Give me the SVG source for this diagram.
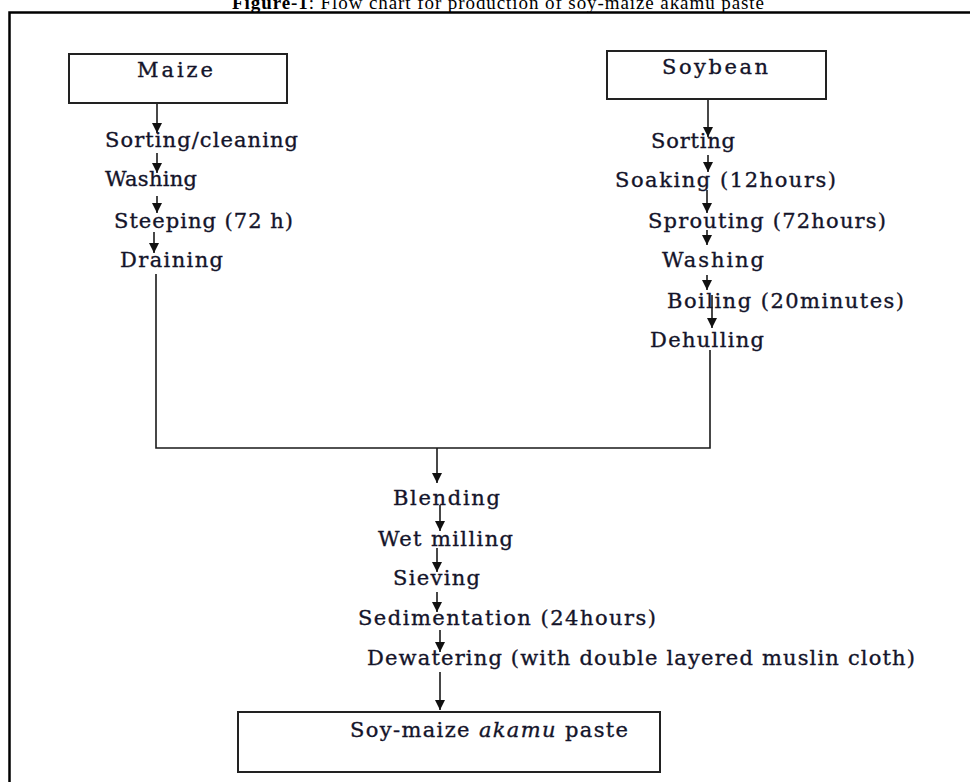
<svg xmlns="http://www.w3.org/2000/svg" width="970" height="782" viewBox="0 0 970 782">
<style>
.lbl{font-family:"DejaVu Serif","Liberation Serif",serif;font-size:21px;fill:#14142a;stroke:#14142a;stroke-width:0.35}
.ttl{font-family:"Liberation Serif","Times New Roman",serif;font-size:19px;fill:#000}
.box{fill:#fff;stroke:#222;stroke-width:2}
.con{fill:none;stroke:#1a1a1a;stroke-width:1.6}
.frame{fill:none;stroke:#000;stroke-width:2.5}
</style>
<defs>
<marker id="ah" viewBox="0 0 10 10" refX="10" refY="5" markerWidth="10" markerHeight="10" markerUnits="userSpaceOnUse" orient="auto">
<path d="M0,0 L10,5 L0,10 z" fill="#111"/>
</marker>
</defs>
<rect width="970" height="782" fill="#fff"/>
<g id="title">
<text class="ttl" x="232" y="9" textLength="532" lengthAdjust="spacing"><tspan font-weight="bold">Figure-1</tspan>: Flow chart for production of soy-maize akamu paste</text>
</g>
<g id="frame">
<path class="frame" d="M9.5,782 V12.5 H970"/>
</g>
<g id="connectors">
<path class="con" marker-end="url(#ah)" d="M157,103 V133"/>
<path class="con" marker-end="url(#ah)" d="M157,153 V173"/>
<path class="con" marker-end="url(#ah)" d="M157,196 V213"/>
<path class="con" marker-end="url(#ah)" d="M154,232 V253"/>
<path class="con" d="M156,274 V448 H710 V350"/>
<path class="con" marker-end="url(#ah)" d="M437,448 V483"/>
<path class="con" marker-end="url(#ah)" d="M708,99 V137"/>
<path class="con" marker-end="url(#ah)" d="M708,155 V172"/>
<path class="con" marker-end="url(#ah)" d="M707,190 V213"/>
<path class="con" marker-end="url(#ah)" d="M707,230 V245"/>
<path class="con" marker-end="url(#ah)" d="M707,275 V290"/>
<path class="con" marker-end="url(#ah)" d="M712,295 V328"/>
<path class="con" marker-end="url(#ah)" d="M440,505 V531"/>
<path class="con" marker-end="url(#ah)" d="M437,548 V572"/>
<path class="con" marker-end="url(#ah)" d="M437,592 V612"/>
<path class="con" marker-end="url(#ah)" d="M440,630 V652"/>
<path class="con" marker-end="url(#ah)" d="M440,672 V710"/>
</g>
<g id="maize">
<rect class="box" x="69" y="54" width="218" height="49"/>
<text class="lbl" x="137" y="77" textLength="76" lengthAdjust="spacing">Maize</text>
</g>
<g id="soybean">
<rect class="box" x="607" y="51" width="219" height="48"/>
<text class="lbl" x="662" y="74" textLength="106" lengthAdjust="spacing">Soybean</text>
</g>
<g id="sorting-cleaning"><text class="lbl" x="105" y="147" textLength="193" lengthAdjust="spacing">Sorting/cleaning</text></g>
<g id="washing-maize"><text class="lbl" x="105" y="186" textLength="92" lengthAdjust="spacing">Washing</text></g>
<g id="steeping"><text class="lbl" x="114" y="228" textLength="179" lengthAdjust="spacing">Steeping (72 h)</text></g>
<g id="draining"><text class="lbl" x="120" y="267" textLength="103" lengthAdjust="spacing">Draining</text></g>
<g id="sorting"><text class="lbl" x="651" y="148" textLength="84" lengthAdjust="spacing">Sorting</text></g>
<g id="soaking"><text class="lbl" x="615" y="187" textLength="221" lengthAdjust="spacing">Soaking (12hours)</text></g>
<g id="sprouting"><text class="lbl" x="648" y="228" textLength="238" lengthAdjust="spacing">Sprouting (72hours)</text></g>
<g id="washing-soy"><text class="lbl" x="662" y="267" textLength="102" lengthAdjust="spacing">Washing</text></g>
<g id="boiling"><text class="lbl" x="667" y="308" textLength="237" lengthAdjust="spacing">Boiling (20minutes)</text></g>
<g id="dehulling"><text class="lbl" x="650" y="347" textLength="114" lengthAdjust="spacing">Dehulling</text></g>
<g id="blending"><text class="lbl" x="393" y="505" textLength="107" lengthAdjust="spacing">Blending</text></g>
<g id="wet-milling"><text class="lbl" x="378" y="546" textLength="135" lengthAdjust="spacing">Wet milling</text></g>
<g id="sieving"><text class="lbl" x="393" y="585" textLength="87" lengthAdjust="spacing">Sieving</text></g>
<g id="sedimentation"><text class="lbl" x="358" y="625" textLength="298" lengthAdjust="spacing">Sedimentation (24hours)</text></g>
<g id="dewatering"><text class="lbl" x="367" y="665" textLength="548" lengthAdjust="spacing">Dewatering (with double layered muslin cloth)</text></g>
<g id="product">
<rect class="box" x="238" y="712" width="422" height="60"/>
<text class="lbl" x="350" y="737" textLength="278" lengthAdjust="spacing">Soy-maize <tspan font-style="italic">akamu</tspan> paste</text>
</g>
</svg>
